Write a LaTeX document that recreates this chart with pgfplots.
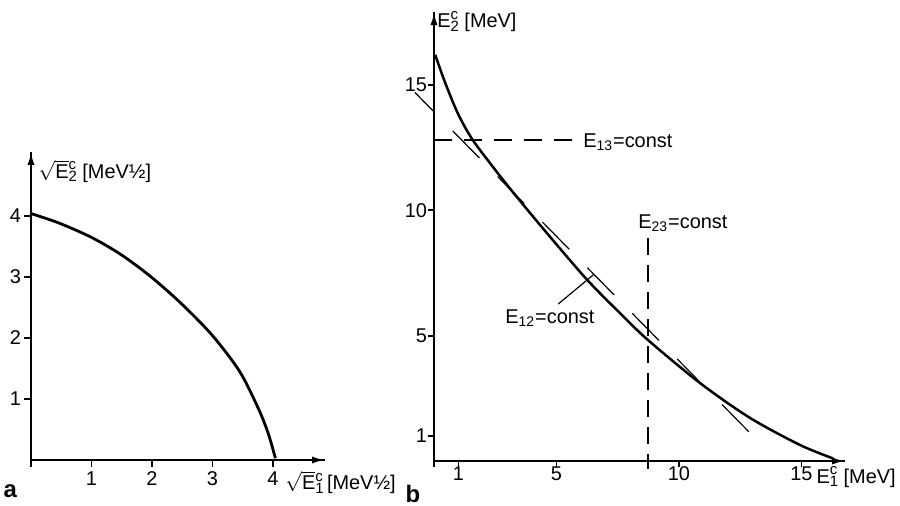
\documentclass[border=0pt]{standalone}
\usepackage{fontspec}
\setmainfont{Liberation Sans}
\usepackage{pgfplots}
\pgfplotsset{compat=1.18}
\usetikzlibrary{arrows.meta}

% E with superscript c and subscript index stacked behind it
\newcommand{\smallidx}[1]{{\fontsize{7.5}{7.5}\selectfont #1}}
\newcommand{\cidx}[1]{\rlap{\raisebox{0.8ex}{\smallidx{c}}}\raisebox{-0.3ex}{\smallidx{#1}}}
\newcommand{\Ec}[1]{E\cidx{#1}}

\tikzset{axis arrows/.style={line width=#1,-{Latex[length=6.5bp,width=3.6bp]}}}

\pgfplotsset{
  sketch/.style={
    axis lines=left,
    axis line style={line width=1.1bp,-},
    tick align=outside,
    major tick length=3.5bp,
    tick style={black,line width=0.9bp},
    ticklabel style={font=\fontsize{10}{12}\selectfont},
    /pgf/number format/assume math mode=true,
    clip=false,
    scale only axis,
    anchor=origin,
  },
}

\begin{document}
\begin{tikzpicture}
\useasboundingbox (0,0) rectangle (450bp,253bp);

% (a) square-root energy plane
\begin{axis}[sketch,
  at={(15.5bp,23bp)},
  width=147bp, height=154bp,
  xmin=0, xmax=4.86, ymin=0, ymax=5.05,
  xtick={0,1,2,3,4}, xticklabels={,1,2,3,4},
  ytick={1,2,3,4},
  xticklabel style={yshift=1bp},
  yticklabel style={xshift=2bp},
]
\draw[axis arrows=1.1bp] (rel axis cs:0,0) -- (rel axis cs:1,0);
\draw[axis arrows=1.1bp] (rel axis cs:0,0) -- (rel axis cs:0,1);
\addplot[line width=1.4bp, smooth] coordinates {
  (0,4.04) (0.45,3.89) (1.0,3.65) (1.5,3.36) (2.0,2.99) (2.5,2.55)
  (3.0,2.04) (3.45,1.45) (3.76,0.84) (3.92,0.44) (4.04,0.03)
};
\node[anchor=base west, inner sep=0pt] at (axis cs:0.12,4.62)
  {$\sqrt{\hbox{E}}$\cidx{2} [MeV½]};
\node[anchor=base west, inner sep=0pt] at (axis cs:4.2,-0.49)
  {$\sqrt{\hbox{E}}$\cidx{1}\,[MeV½]};
\node[anchor=base west, inner sep=0pt, font=\fontsize{12}{14}\selectfont\bfseries]
  at (axis cs:-0.46,-0.61) {a};
\end{axis}

% (b) energy plane with lines of constant pair energy
\begin{axis}[sketch,
  at={(217bp,22.5bp)},
  width=205.5bp, height=224.4bp,
  xmin=0, xmax=16.78, ymin=0, ymax=17.9,
  axis line style={line width=1bp},
  xtick={0,1,5,10,15}, xticklabels={,1,5,10,15},
  ytick={1,5,10,15},
  major tick length=3bp,
  xticklabel style={yshift=3.5bp},
  yticklabel style={xshift=3bp},
]
\draw[axis arrows=1bp] (rel axis cs:0,0) -- (rel axis cs:1,0);
\draw[axis arrows=1bp] (rel axis cs:0,0) -- (rel axis cs:0,1);
\addplot[line width=1.25bp, smooth] coordinates {
  (0.05,16.2) (0.45,15.1) (0.98,13.85) (1.55,12.85) (2.35,11.8)
  (3.24,10.7) (4.6,9.1) (6.23,7.25) (7.59,5.9) (8.73,4.83)
  (10.86,3.11) (12.9,1.72) (14.94,0.64) (16.3,0.1)
};
% E12 = const
\addplot[line width=0.6bp, dash pattern=on 19bp off 13bp, dash phase=5bp]
  coordinates {(-0.78,14.7) (13.06,0.96)};
% E13 = const
\addplot[line width=0.8bp, dash pattern=on 9bp off 6bp]
  coordinates {(0,12.8) (5.75,12.8)};
% E23 = const
\addplot[line width=0.8bp, dash pattern=on 8.5bp off 5bp]
  coordinates {(8.73,8.9) (8.73,-0.3)};
\draw[line width=0.6bp] (axis cs:5.07,6.26) -- (axis cs:6.5,7.42);
\node[anchor=base west, inner sep=0pt] at (axis cs:6.08,12.52) {E\textsubscript{13}=const};
\node[anchor=base west, inner sep=0pt] at (axis cs:8.33,9.29) {E\textsubscript{23}=const};
\node[anchor=base west, inner sep=0pt] at (axis cs:2.9,5.49) {E\textsubscript{12}=const};
\node[anchor=base west, inner sep=0pt] at (axis cs:0.12,17.27) {\Ec{2} [MeV]};
\node[anchor=base west, inner sep=0pt] at (axis cs:15.6,-0.88) {\Ec{1} [MeV]};
\node[anchor=base west, inner sep=0pt, font=\fontsize{12}{14}\selectfont\bfseries]
  at (axis cs:-1.18,-1.64) {b};
\end{axis}
\end{tikzpicture}
\end{document}
